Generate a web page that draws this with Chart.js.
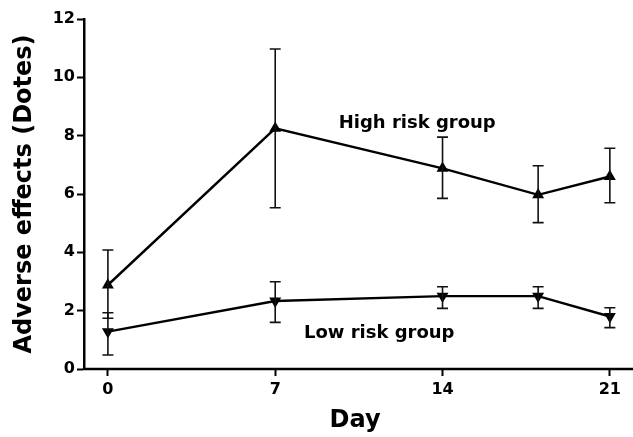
<!DOCTYPE html>
<html>
<head>
<meta charset="utf-8">
<script src="https://cdn.jsdelivr.net/npm/chart.js@4"></script>
<style>
html,body{margin:0;padding:0;background:#fff;}
#wrap{width:633px;height:437px;}
</style>
</head>
<body>
<div id="wrap"><canvas id="c" width="633" height="437"></canvas></div>
<script>
const days = [0, 7, 14, 18, 21];
const xTicks = [0, 7, 14, 21];
const highMean  = [2.88, 8.25, 6.88, 5.97, 6.60];
const highUpper = [4.08, 10.97, 7.95, 6.97, 7.57];
const highLower = [1.74, 5.53, 5.85, 5.02, 5.70];
const lowMean   = [1.28, 2.33, 2.50, 2.50, 1.80];
const lowUpper  = [1.93, 2.99, 2.82, 2.82, 2.10];
const lowLower  = [0.48, 1.60, 2.08, 2.08, 1.42];
const seriesLabels = ['High risk group', 'Low risk group'];
const labelAt = [[12.94, 8.43], [11.35, 1.23]];

const FONT = 'DejaVu Sans';

const errorBars = {
  id: 'errorBars',
  afterDatasetsDraw(chart) {
    const {ctx, scales: {x, y}} = chart;
    const sets = [[highUpper, highLower], [lowUpper, lowLower]];
    ctx.save();
    ctx.strokeStyle = '#111';
    ctx.lineWidth = 1.6;
    sets.forEach(([up, lo]) => {
      days.forEach((d, i) => {
        const px = x.getPixelForValue(d);
        const pt = y.getPixelForValue(up[i]);
        const pb = y.getPixelForValue(lo[i]);
        ctx.beginPath();
        ctx.moveTo(px, pt); ctx.lineTo(px, pb);
        ctx.moveTo(px - 5.5, pt); ctx.lineTo(px + 5.5, pt);
        ctx.moveTo(px - 5.5, pb); ctx.lineTo(px + 5.5, pb);
        ctx.stroke();
      });
    });
    // x axis line running from the y axis to the right edge of the canvas
    ctx.strokeStyle = '#000';
    ctx.lineWidth = 2.5;
    ctx.beginPath();
    ctx.moveTo(x.left - 1.25, x.top);
    ctx.lineTo(chart.width, x.top);
    ctx.stroke();
    ctx.fillStyle = '#000';
    ctx.font = 'bold 18px "' + FONT + '"';
    ctx.textAlign = 'center';
    ctx.textBaseline = 'middle';
    seriesLabels.forEach((t, i) => {
      ctx.fillText(t, x.getPixelForValue(labelAt[i][0]), y.getPixelForValue(labelAt[i][1]));
    });
    ctx.restore();
  }
};

new Chart(document.getElementById('c'), {
  type: 'line',
  data: {
    datasets: [
      {
        data: days.map((d, i) => ({x: d, y: highMean[i]})),
        borderColor: '#000', backgroundColor: '#000', borderWidth: 2.4,
        pointStyle: 'triangle', pointRadius: 4.5, pointRotation: 0, tension: 0
      },
      {
        data: days.map((d, i) => ({x: d, y: lowMean[i]})),
        borderColor: '#000', backgroundColor: '#000', borderWidth: 2.4,
        pointStyle: 'triangle', pointRadius: 4.5, pointRotation: 180, tension: 0
      }
    ]
  },
  options: {
    responsive: false,
    animation: false,
    devicePixelRatio: 1,
    layout: {padding: {top: 19, right: 0, left: 0, bottom: 0}},
    plugins: {legend: {display: false}, tooltip: {enabled: false}},
    scales: {
      x: {
        type: 'linear', min: -1, max: 21.68,
        afterBuildTicks(s) { s.ticks = xTicks.map(v => ({value: v})); },
        afterFit(s) { s.height = 68; },
        grid: {display: true, drawOnChartArea: false, drawTicks: true, tickLength: 7, tickWidth: 2, tickColor: '#000'},
        border: {display: false},
        ticks: {color: '#000', font: {family: FONT, size: 16, weight: 'bold'}, padding: 4, maxRotation: 0},
        title: {display: true, text: 'Day', color: '#000', font: {family: FONT, size: 24, weight: 'bold'}, padding: {top: 0, bottom: 2}}
      },
      y: {
        min: 0, max: 12,
        afterFit(s) { s.width = 84; },
        grid: {display: true, drawOnChartArea: false, drawTicks: true, tickLength: 7, tickWidth: 2, tickColor: '#000'},
        border: {display: true, color: '#000', width: 2.5},
        ticks: {stepSize: 2, color: '#000', font: {family: FONT, size: 16, weight: 'bold'}, padding: 2},
        title: {display: true, text: 'Adverse effects (Dotes)', color: '#000', font: {family: FONT, size: 24, weight: 'bold'}, padding: {top: 10, bottom: 0}}
      }
    }
  },
  plugins: [errorBars]
});
</script>
</body>
</html>
